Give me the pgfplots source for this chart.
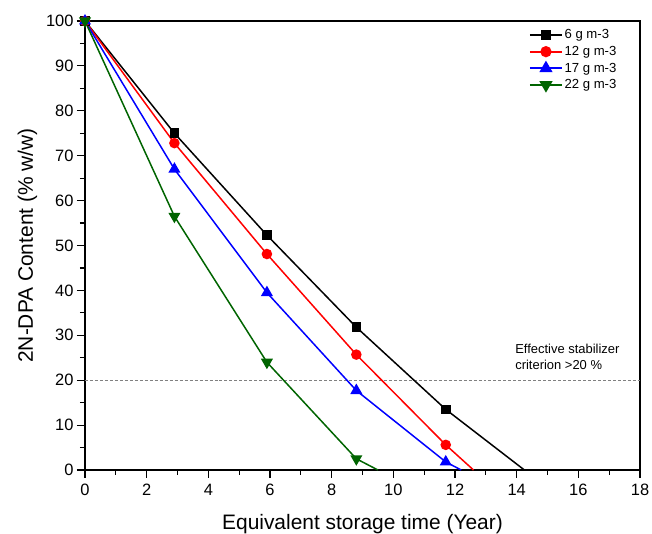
\documentclass[border=0pt]{standalone}
\usepackage{fontspec}
\setmainfont{Liberation Sans}
\usepackage{pgfplots}
\pgfplotsset{compat=1.18}
\definecolor{dgreen}{RGB}{0,100,0}
\begin{document}
\begin{tikzpicture}
\begin{axis}[
  scale only axis, width=555bp, height=449bp,
  xmin=0, xmax=18, ymin=0, ymax=100,
  xtick={0,2,...,18}, ytick={0,10,...,100},
  minor x tick num=1, minor y tick num=1,
  axis x line*=bottom, axis y line*=left,
  tick align=outside,
  major tick length=8bp, minor tick length=5bp,
  every tick/.style={black, line width=1.2pt},
  axis line style={line width=1.2pt},
  tick label style={font=\fontsize{16.5}{18}\selectfont},
  xticklabel style={yshift=-3bp},
  /pgf/number format/assume math mode=true,
  xlabel={Equivalent storage time (Year)},
  ylabel={2N-DPA Content (\% w/w)},
  label style={font=\fontsize{21}{23}\selectfont},
  xlabel style={yshift=-11bp},
  ylabel style={yshift=2bp},
  legend style={at={(0.794,0.99)}, anchor=north west, draw=none, fill=none,
    font=\fontsize{13.2}{15}\selectfont, row sep=2bp,
    nodes={inner xsep=1.5bp}},
  legend image code/.code={\draw[#1, mark indices={2}] plot coordinates {(0bp,0bp) (16bp,0bp) (32bp,0bp)};},
  legend cell align=left,
  clip=false,
]
\draw[black, line width=1.2pt] (rel axis cs:0,1) -- (rel axis cs:1,1) -- (rel axis cs:1,0);
\draw[gray, densely dashed, line width=0.5pt] (axis cs:0,20) -- (axis cs:18,20);
\addplot[black, line width=1.5pt, mark=square*, mark size=4bp, mark indices={1,2,3,4,5}, legend image post style={line width=2.2pt}]
  coordinates {(0,100) (2.9,75) (5.9,52.3) (8.8,31.8) (11.7,13.5) (14.25,0)};
\addplot[red, line width=1.5pt, mark=*, mark size=4.5bp, mark indices={1,2,3,4,5}, legend image post style={line width=2.2pt}]
  coordinates {(0,100) (2.9,72.8) (5.9,48.1) (8.8,25.7) (11.7,5.6) (12.6,0)};
\addplot[blue, line width=1.5pt, mark=triangle*, mark size=5.5bp, mark indices={1,2,3,4,5}, legend image post style={line width=2.2pt}]
  coordinates {(0,100) (2.9,67) (5.9,39.5) (8.8,17.7) (11.7,1.8) (12.2,0)};
\addplot[dgreen, line width=1.5pt, mark=triangle*, mark options={rotate=180}, mark size=5.5bp, mark indices={1,2,3,4}, legend image post style={line width=2.2pt}]
  coordinates {(0,100) (2.9,56.5) (5.9,24) (8.8,2.5) (9.5,0)};
\legend{6 g m-3, 12 g m-3, 17 g m-3, 22 g m-3}
\node[anchor=south west, align=left, font=\fontsize{13}{17}\selectfont, inner sep=0pt] at (axis cs:13.95,22.2) {Effective stabilizer\\criterion >20 \%};
\end{axis}
\pgfresetboundingbox
\path[use as bounding box] (-85bp,-64bp) rectangle (567bp,470bp);
\end{tikzpicture}
\end{document}
